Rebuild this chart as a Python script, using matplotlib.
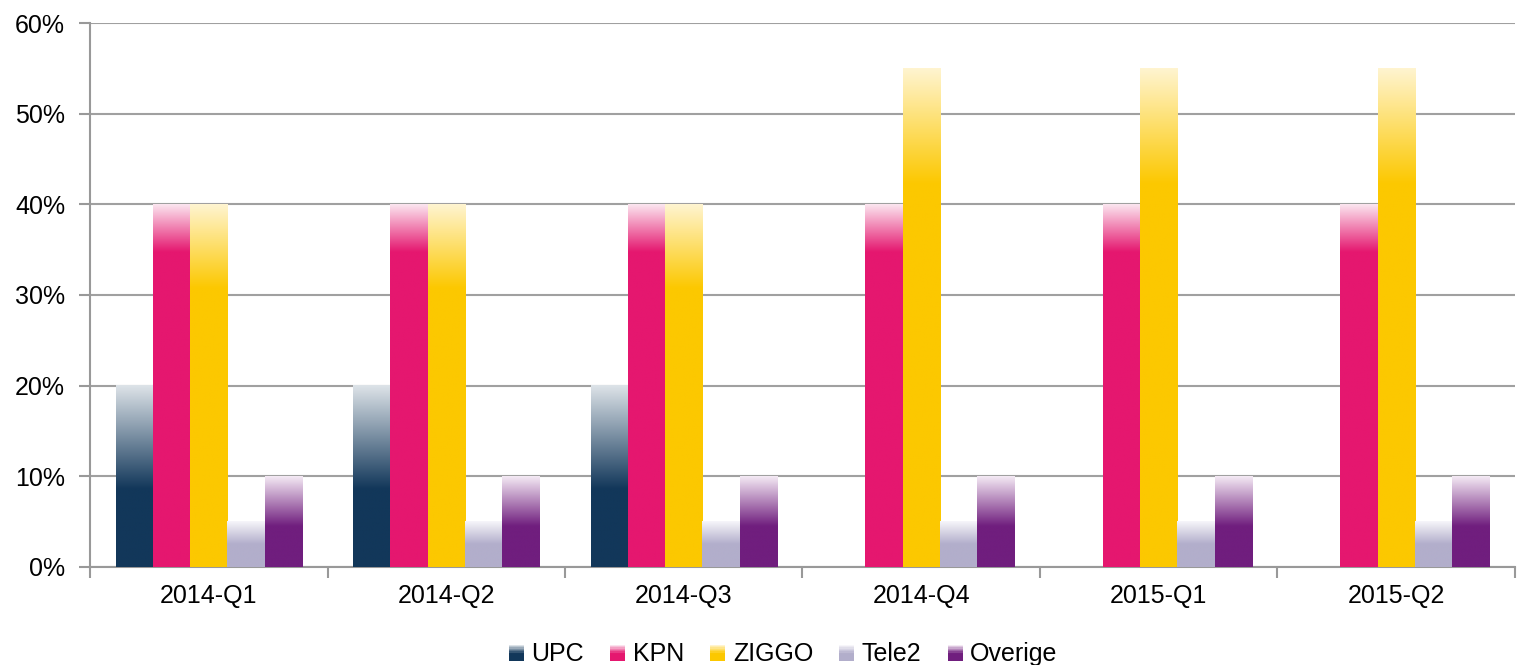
import numpy as np
import matplotlib
matplotlib.use("Agg")
import matplotlib.pyplot as plt
from matplotlib.colors import to_rgb
from matplotlib.patches import Patch, Rectangle
from matplotlib.legend_handler import HandlerBase

quarters = ["2014-Q1", "2014-Q2", "2014-Q3", "2014-Q4", "2015-Q1", "2015-Q2"]
series = ["UPC", "KPN", "ZIGGO", "Tele2", "Overige"]
upc = [20, 20, 20, 0, 0, 0]
kpn = [40, 40, 40, 40, 40, 40]
ziggo = [40, 40, 40, 55, 55, 55]
tele2 = [5, 5, 5, 5, 5, 5]
overige = [10, 10, 10, 10, 10, 10]

base_colors = ["#12375A", "#E5176F", "#FCC800", "#B2AECB", "#701E7E"]
top_colors = ["#DDE3E8", "#FBE3EE", "#FFF4CF", "#F7F6FA", "#F4EAF4"]
# fraction of bar height where the fade starts
fade_start = [0.43, 0.87, 0.77, 0.5, 0.45]

plt.rcParams["font.family"] = ["Liberation Sans", "DejaVu Sans"]

fig = plt.figure(figsize=(15.18, 6.65), dpi=100)
ax = fig.add_axes([0.0593, 0.1474, 0.9387, 0.818])

x = np.arange(len(quarters))
w = 0.157
data = [upc, kpn, ziggo, tele2, overige]


def grad_cols(c0, c1, f0, n=200):
    t = np.linspace(0, 1, n)  # bottom -> top
    s = np.clip((t - f0) / (1 - f0), 0, 1)
    a = np.array(to_rgb(c0))
    b = np.array(to_rgb(c1))
    return a[None, :] * (1 - s[:, None]) + b[None, :] * s[:, None]


for i, vals in enumerate(data):
    bars = ax.bar(x + (i - 2) * w, vals, width=w, color=base_colors[i], zorder=3)
    img = grad_cols(base_colors[i], top_colors[i], fade_start[i])[::-1][:, None, :]
    for b in bars:
        h = b.get_height()
        if h <= 0:
            continue
        b.set_visible(False)
        x0 = b.get_x()
        ax.imshow(img, extent=[x0, x0 + b.get_width(), 0, h], aspect="auto",
                  interpolation="bilinear", zorder=3)

ax.set_xlim(-0.5, len(quarters) - 0.5)
ax.set_ylim(0, 60)
ax.set_yticks(range(0, 61, 10))
ax.set_yticklabels([f"{v}%" for v in range(0, 61, 10)], fontsize=18)
ax.set_xticks(x)
ax.set_xticklabels(quarters, fontsize=18)
ax.tick_params(axis="x", length=0, pad=12)
ax.set_xticks(np.arange(-0.5, len(quarters), 1), minor=True)
ax.tick_params(axis="x", which="minor", length=8, width=1.5, color="#999999")
ax.tick_params(axis="y", length=8, width=1.5, color="#999999", pad=10)

ax.grid(axis="y", color="#A0A0A0", lw=1.5, zorder=0)
ax.set_axisbelow(True)
for s in ["top", "right"]:
    ax.spines[s].set_visible(False)
for s in ["left", "bottom"]:
    ax.spines[s].set_color("#999999")
    ax.spines[s].set_linewidth(1.5)


class GradHandler(HandlerBase):
    def __init__(self, c0, c1, f0):
        super().__init__()
        self.cols = grad_cols(c0, c1, f0, n=12)

    def create_artists(self, legend, orig_handle, xdescent, ydescent,
                       width, height, fontsize, trans):
        n = len(self.cols)
        arts = []
        for k, c in enumerate(self.cols):
            arts.append(Rectangle((-xdescent, -ydescent + height * k / n), width,
                                  height / n * 1.05, facecolor=c, edgecolor="none",
                                  transform=trans))
        return arts


handles = [Patch(facecolor=c, edgecolor="none") for c in base_colors]
hmap = {h: GradHandler(base_colors[i], top_colors[i], 0.45) for i, h in enumerate(handles)}
fig.legend(handles, series, loc="lower center", bbox_to_anchor=(0.516, -0.036),
           ncol=5, frameon=False, fontsize=18, handlelength=0.6, handleheight=0.6,
           handletextpad=0.3, columnspacing=1.05, handler_map=hmap)

fig.savefig("out.png", dpi=100)
